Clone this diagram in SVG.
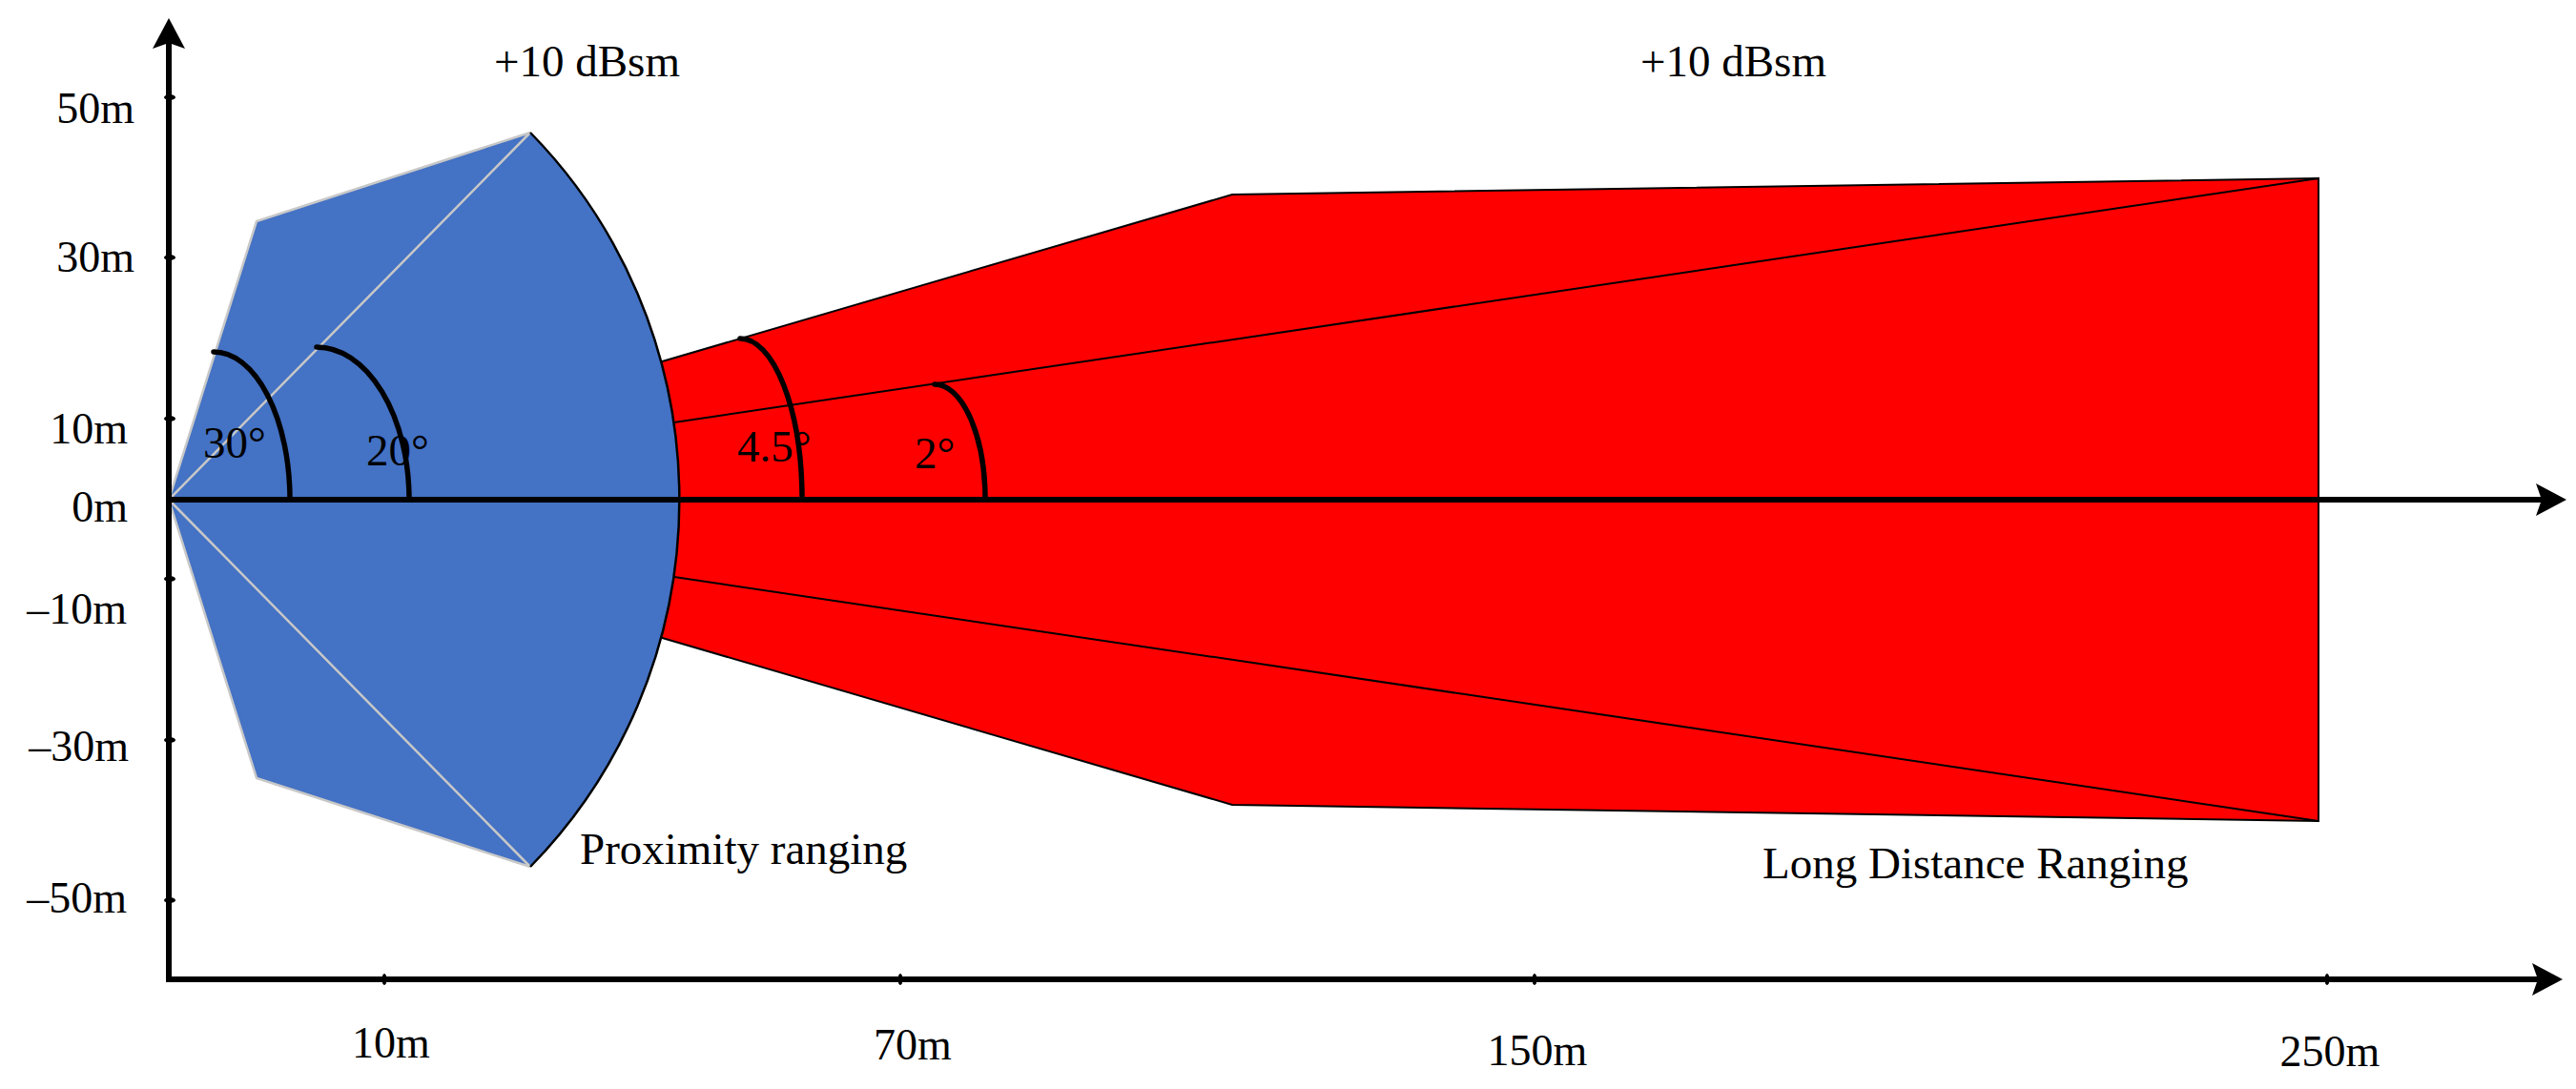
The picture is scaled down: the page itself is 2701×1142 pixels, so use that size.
<svg xmlns="http://www.w3.org/2000/svg" width="2701" height="1142" viewBox="0 0 2701 1142">
<style>
text{font-family:"Liberation Serif","Times New Roman",serif;font-size:47px;fill:#000}
.ylab{text-anchor:end;font-size:46px}
.xlab{text-anchor:middle;font-size:46px}
.axis{stroke:#000;stroke-width:6;fill:none}
.ang{stroke:#000;stroke-width:5.5;fill:none;stroke-linecap:round}
.thin{stroke:#000;stroke-width:2;fill:none}
.grey{stroke:#C8C8C8;stroke-width:2.5;fill:none}
.tick{fill:#000}
</style>
<defs>
<marker id="arr" viewBox="0 0 32 34" markerWidth="32" markerHeight="34" markerUnits="userSpaceOnUse" refX="6" refY="17" orient="auto">
<path d="M0,0 L32,17 L0,34 L6,17 Z" fill="#000"/>
</marker>
</defs>
<g id="long-range">
<path d="M650,392 L1292,204 L2431,187 L2431,861 L1292,844 L650,656 Z" fill="#FF0000" stroke="#000" stroke-width="2" stroke-linejoin="miter"/>
<line class="thin" x1="680" y1="447" x2="2431" y2="187"/>
<line class="thin" x1="680" y1="601" x2="2431" y2="861"/>
</g>
<g id="proximity">
<path d="M177,524 L269,232 L556,139 A535,545 0 0 1 556,909 L269,816 Z" fill="#4472C4"/>
<path class="grey" d="M556,139 L269,232 L177,524 L269,816 L556,909"/>
<line class="grey" x1="177" y1="524" x2="556" y2="139"/>
<line class="grey" x1="177" y1="524" x2="556" y2="909"/>
<path d="M556,139 A535,545 0 0 1 556,909" fill="none" stroke="#000" stroke-width="2.5"/>
</g>
<g id="angles">
<path class="ang" d="M224,369 A80,155 0 0 1 304,524"/>
<path class="ang" d="M332,364 A97,160 0 0 1 429,524"/>
<path class="ang" d="M776,355 A65,169 0 0 1 841,524"/>
<path class="ang" d="M980,403 A53,121 0 0 1 1033,524"/>
<text x="213" y="480">30°</text>
<text x="384" y="488">20°</text>
<text x="773" y="484">4.5°</text>
<text x="959" y="491">2°</text>
</g>
<g id="connectors">
<line class="axis" x1="177" y1="1030" x2="177" y2="45" marker-end="url(#arr)"/>
<line class="axis" x1="177" y1="524" x2="2665" y2="524" marker-end="url(#arr)"/>
<line class="axis" x1="174" y1="1027" x2="2661" y2="1027" marker-end="url(#arr)"/>
</g>
<g id="ticks">
<ellipse class="tick" cx="178" cy="102" rx="6" ry="3"/>
<ellipse class="tick" cx="178" cy="270" rx="6" ry="3"/>
<ellipse class="tick" cx="178" cy="439" rx="6" ry="3"/>
<ellipse class="tick" cx="178" cy="607" rx="6" ry="3"/>
<ellipse class="tick" cx="178" cy="776" rx="6" ry="3"/>
<ellipse class="tick" cx="178" cy="944" rx="6" ry="3"/>
<ellipse class="tick" cx="403" cy="1027" rx="2.5" ry="6"/>
<ellipse class="tick" cx="944" cy="1027" rx="2.5" ry="6"/>
<ellipse class="tick" cx="1609" cy="1027" rx="2.5" ry="6"/>
<ellipse class="tick" cx="2440" cy="1027" rx="2.5" ry="6"/>
</g>
<g id="labels">
<text class="ylab" x="141" y="129">50m</text>
<text class="ylab" x="141" y="285">30m</text>
<text class="ylab" x="134" y="465">10m</text>
<text class="ylab" x="134" y="547">0m</text>
<text class="ylab" x="133" y="654">–10m</text>
<text class="ylab" x="135" y="798">–30m</text>
<text class="ylab" x="133" y="957">–50m</text>
<text class="xlab" x="410" y="1109">10m</text>
<text class="xlab" x="957" y="1111">70m</text>
<text class="xlab" x="1612" y="1117">150m</text>
<text class="xlab" x="2443" y="1118">250m</text>
<text x="518" y="80">+10 dBsm</text>
<text x="1720" y="80">+10 dBsm</text>
<text x="608" y="906">Proximity ranging</text>
<text x="1848" y="921">Long Distance Ranging</text>
</g>
</svg>
